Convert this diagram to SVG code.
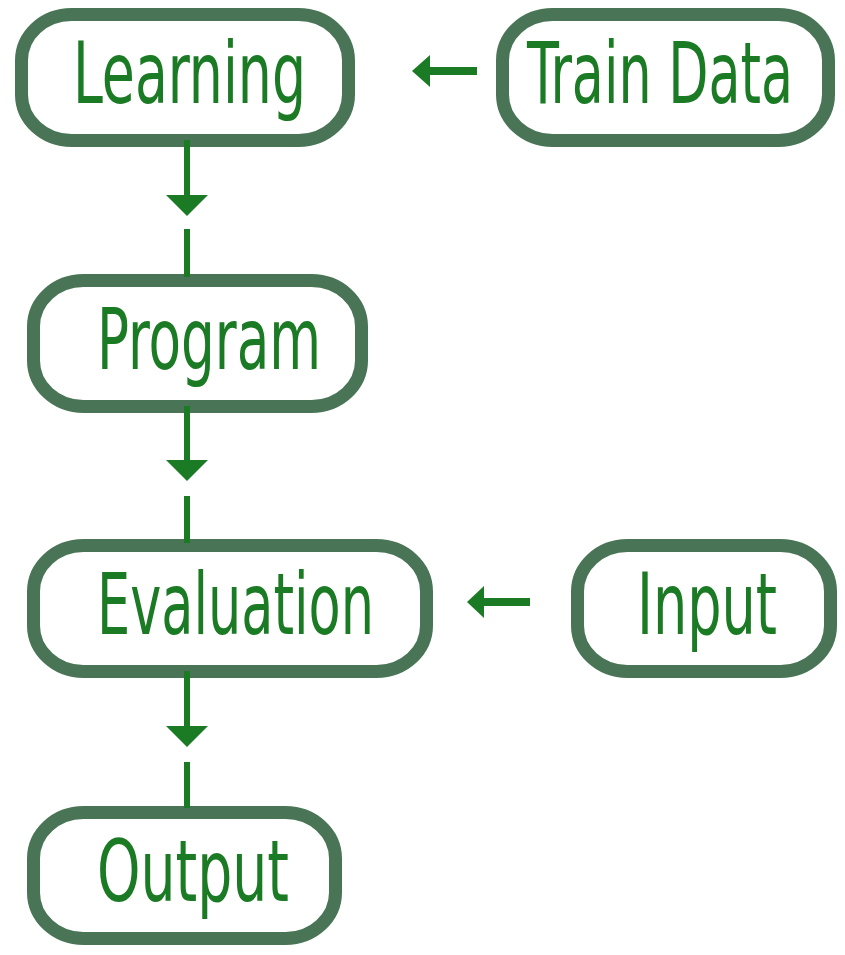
<svg xmlns="http://www.w3.org/2000/svg" width="845" height="955" viewBox="0 0 845 955">
<style>
.box{fill:#ffffff;stroke:#497556;stroke-width:13}
.lbl{font-family:"DejaVu Sans Condensed","DejaVu Sans",sans-serif;font-size:85px;fill:#1b7a24;text-anchor:middle}
.ln{stroke:#1b7a24;stroke-width:6;fill:none}
.hl{stroke:#1b7a24;stroke-width:8;fill:none}
.hd{fill:#1b7a24}
</style>
<rect width="845" height="955" fill="#ffffff"/>
<g id="learning">
<rect class="box" x="21.5" y="14.5" width="327" height="126" rx="50" ry="46"/>
<text class="lbl" x="189.5" y="103" textLength="233" lengthAdjust="spacingAndGlyphs">Learning</text>
</g>
<g id="train-data">
<rect class="box" x="502.5" y="14.5" width="326" height="126" rx="50" ry="46"/>
<text class="lbl" x="660" y="103" textLength="266" lengthAdjust="spacingAndGlyphs">Train Data</text>
</g>
<g id="program">
<rect class="box" x="33.5" y="280.5" width="328" height="126" rx="50" ry="46"/>
<text class="lbl" x="209" y="369" textLength="224" lengthAdjust="spacingAndGlyphs">Program</text>
</g>
<g id="evaluation">
<rect class="box" x="33.5" y="545.5" width="393" height="126" rx="50" ry="46"/>
<text class="lbl" x="235.5" y="634" textLength="277" lengthAdjust="spacingAndGlyphs">Evaluation</text>
</g>
<g id="input">
<rect class="box" x="577.5" y="545.5" width="253" height="126" rx="50" ry="46"/>
<text class="lbl" x="707" y="634" textLength="140" lengthAdjust="spacingAndGlyphs">Input</text>
</g>
<g id="output">
<rect class="box" x="33.5" y="812.5" width="302" height="126" rx="50" ry="46"/>
<text class="lbl" x="193" y="901" textLength="192" lengthAdjust="spacingAndGlyphs">Output</text>
</g>
<g id="connectors">
<line class="hl" x1="477" y1="71" x2="428" y2="71"/>
<polygon class="hd" points="412,71 430,55 430,87"/>
<line class="hl" x1="530" y1="602" x2="481" y2="602"/>
<polygon class="hd" points="467,602 484,586 484,618"/>
<line class="ln" x1="187" y1="140" x2="187" y2="197"/>
<polygon class="hd" points="166,195 208,195 187,216"/>
<line class="ln" x1="187" y1="229" x2="187" y2="277"/>
<line class="ln" x1="187" y1="406" x2="187" y2="462"/>
<polygon class="hd" points="166,460 208,460 187,481"/>
<line class="ln" x1="187" y1="496" x2="187" y2="543"/>
<line class="ln" x1="187" y1="671" x2="187" y2="728"/>
<polygon class="hd" points="166,726 208,726 187,747"/>
<line class="ln" x1="187" y1="762" x2="187" y2="808"/>
</g>
</svg>
